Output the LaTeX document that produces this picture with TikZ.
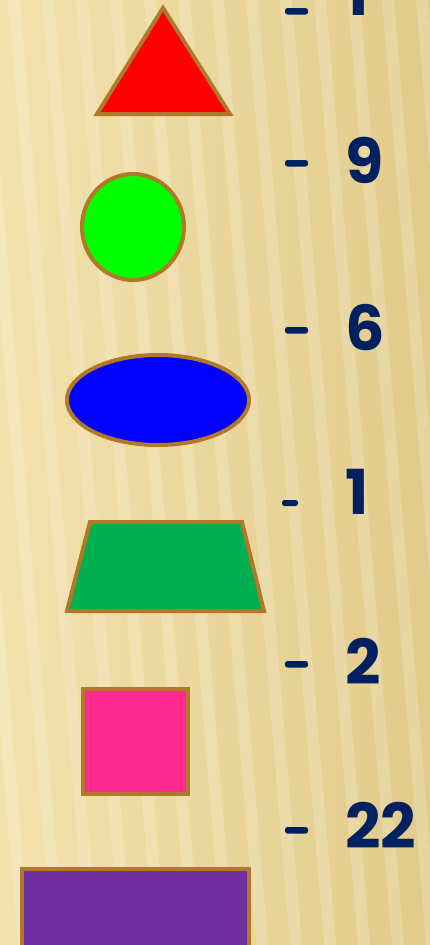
\documentclass[tikz,border=0pt]{standalone}
\usepackage{fontspec}
\setmainfont{Poppins}
\usetikzlibrary{shapes.geometric}
\definecolor{bgA}{HTML}{F2E2AE}
\definecolor{bgB}{HTML}{E2CB8A}
\definecolor{edge}{HTML}{B07828}
\definecolor{navy}{HTML}{002060}
\definecolor{shRed}{HTML}{FF0000}
\definecolor{shGreen}{HTML}{00FF00}
\definecolor{shBlue}{HTML}{0000FF}
\definecolor{shTrap}{HTML}{00B050}
\definecolor{shPink}{HTML}{FF2A90}
\definecolor{shPurple}{HTML}{7030A0}
\tikzset{
  shapeline/.style={draw=edge, line width=4pt, line join=miter},
  num/.style={text=navy, font=\fontsize{62}{62}\selectfont\bfseries, inner sep=0pt, anchor=base west},
  dashmark/.style={fill=navy, rounded corners=2.5pt, draw=none},
}
\begin{document}
\begin{tikzpicture}[x=1pt,y=-1pt]
\useasboundingbox (0,0) rectangle (430,945);
\shade[left color=bgA, right color=bgB] (0,0) rectangle (430,945);
\begin{scope}[opacity=0.18]
\foreach \i in {0,...,14} {
  \fill[white] (\i*34-60,0) -- (\i*34-48,0) -- (\i*34+30,945) -- (\i*34+18,945) -- cycle;
}
\end{scope}
% shapes
\draw[shapeline, fill=shRed] (163,8) coordinate (tA) -- (230,114) coordinate (tB) -- (97,114) coordinate (tC) -- cycle;
\node[shapeline, fill=shGreen, ellipse, minimum width=102pt, minimum height=106pt, inner sep=0pt] (circ) at (133,227) {};
\node[shapeline, fill=shBlue, ellipse, minimum width=182pt, minimum height=90pt, inner sep=0pt] (ell) at (158,400) {};
\draw[shapeline, fill=shTrap] (90,522) -- (242,522) -- (264,611) -- (67,611) -- cycle;
\draw[shapeline, fill=shPink] (83,689) rectangle (188,794);
\draw[shapeline, fill=shPurple] (22,869) rectangle (249,960);
% numbers
\node[num] (n1) at (345,15) {1};
\node[num] (n2) at (345,183) {9};
\node[num] (n3) at (345,350) {6};
\node[num] (n4) at (345,514) {1};
\node[num] (n5) at (345,684) {2};
\node[num] (n6) at (345,848) {22};
\fill[dashmark] (285,8) rectangle (308,14.5);
\fill[dashmark] (285,160) rectangle (308,166.5);
\fill[dashmark] (285,327) rectangle (308,333.5);
\fill[dashmark] (282,500) rectangle (298,506);
\fill[dashmark] (285,661) rectangle (308,667.5);
\fill[dashmark] (285,827) rectangle (308,833.5);
\end{tikzpicture}
\end{document}
